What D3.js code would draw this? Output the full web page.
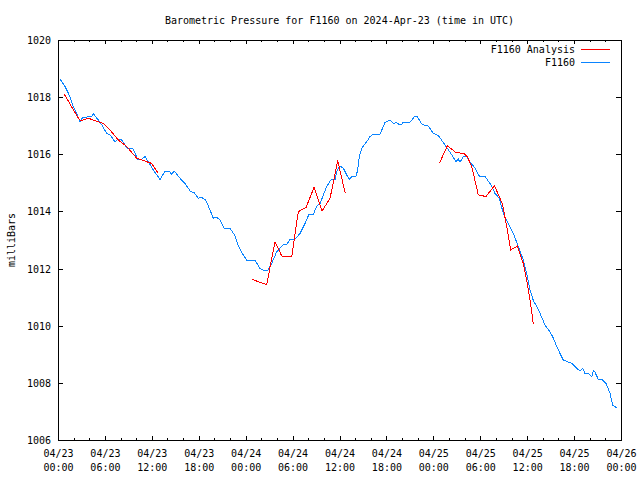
<!DOCTYPE html>
<html><head><meta charset="utf-8">
<script src="https://cdn.jsdelivr.net/npm/d3@7"></script>
<style>
html,body{margin:0;padding:0;background:#fff;}
svg text{font-family:"DejaVu Sans Mono",monospace;font-size:10px;fill:#000;}
</style></head>
<body>
<svg id="chart" width="640" height="480"></svg>
<script>
// ---- data (hours since 2024-04-23 00:00 UTC, pressure in mb) ----
const title = "Barometric Pressure for F1160 on 2024-Apr-23 (time in UTC)";
const yLabel = "milliBars";
const seriesNames = ["F1160 Analysis", "F1160"];
const yTicks = [1006, 1008, 1010, 1012, 1014, 1016, 1018, 1020];

const obsHours = [0.26,0.90,1.53,1.96,2.39,2.81,3.16,4.31,4.51,5.15,5.59,6.23,6.65,7.29,7.71,8.15,8.86,9.55,10.19,10.70,11.13,11.55,12.19,13.05,13.69,14.23,14.54,14.87,15.60,16.24,16.97,17.39,17.94,18.38,18.89,19.44,19.86,20.30,20.72,21.23,22.00,22.64,23.06,23.57,24.13,25.19,25.83,26.35,26.79,27.33,27.97,28.39,28.81,29.25,29.67,30.31,30.95,31.59,32.10,32.65,33.16,33.51,33.93,34.36,34.88,35.43,35.72,36.07,36.49,36.92,37.26,37.56,38.11,38.33,38.53,38.84,39.48,39.90,40.32,41.18,41.82,42.46,42.88,43.32,43.65,43.96,44.16,45.02,45.66,45.95,46.52,46.94,47.36,48.00,48.64,49.20,49.79,50.35,50.90,51.20,51.41,51.84,52.27,52.69,53.33,53.88,54.61,55.38,55.89,56.44,56.95,57.59,58.23,58.87,59.51,59.94,60.37,60.79,61.22,61.65,62.29,62.92,63.35,63.78,64.20,64.62,65.14,65.70,66.34,66.76,67.11,67.40,67.95,68.26,68.46,68.68,69.10,69.66,70.08,70.60,70.94,71.24,71.53];
const obsValues = [1018.63,1018.37,1018.02,1017.67,1017.43,1017.14,1017.29,1017.32,1017.43,1017.20,1017.03,1016.73,1016.68,1016.44,1016.53,1016.50,1016.21,1016.21,1015.83,1015.83,1015.92,1015.74,1015.45,1015.12,1015.41,1015.41,1015.30,1015.41,1015.16,1014.98,1014.69,1014.67,1014.46,1014.49,1014.40,1014.05,1013.76,1013.79,1013.70,1013.41,1013.41,1013.15,1012.79,1012.53,1012.30,1012.30,1012.01,1011.92,1011.92,1012.18,1012.59,1012.71,1012.83,1012.83,1013.03,1013.03,1013.23,1013.58,1013.90,1013.90,1014.22,1014.26,1014.58,1014.87,1015.10,1015.12,1015.45,1015.59,1015.51,1015.28,1015.12,1015.22,1015.24,1015.45,1015.92,1016.21,1016.44,1016.62,1016.70,1016.71,1017.11,1017.20,1017.08,1017.11,1017.04,1017.05,1017.12,1017.12,1017.34,1017.32,1017.06,1017.01,1016.99,1016.73,1016.66,1016.44,1016.21,1015.98,1015.74,1015.83,1015.72,1015.92,1015.92,1015.74,1015.51,1015.24,1015.22,1014.93,1014.63,1014.46,1013.93,1013.58,1013.23,1012.77,1012.30,1011.83,1011.25,1010.88,1010.67,1010.43,1010.02,1009.79,1009.56,1009.27,1009.03,1008.80,1008.74,1008.68,1008.51,1008.42,1008.51,1008.33,1008.31,1008.22,1008.42,1008.37,1008.12,1008.10,1007.98,1007.63,1007.22,1007.17,1007.11];

// analysis runs (three separate segments)
const anaHours1 = [0.81,2.47,2.90,3.88,4.73,5.79,6.65,7.71,8.79,10.07,11.34,11.98,12.83];
const anaValues1 = [1018.10,1017.32,1017.17,1017.26,1017.18,1017.08,1016.85,1016.50,1016.27,1015.86,1015.74,1015.68,1015.33];
const anaHours2 = [24.81,26.69,27.75,28.61,29.89,30.73,31.72,32.74,33.76,34.79,35.77,36.74];
const anaValues2 = [1011.62,1011.44,1012.94,1012.44,1012.42,1013.99,1014.14,1014.84,1014.01,1014.46,1015.78,1014.63];
const anaHours3 = [48.77,49.79,50.90,51.92,52.34,52.91,53.75,54.74,55.80,56.44,56.87,57.38,57.90,58.74,59.51,59.94,60.37,60.79];
const anaValues3 = [1015.68,1016.30,1016.06,1016.03,1015.92,1015.57,1014.58,1014.52,1014.90,1014.52,1014.23,1013.47,1012.65,1012.79,1012.18,1011.60,1010.90,1010.06];

// ---- chart ----
const t0 = Date.UTC(2024, 3, 23, 0, 0);
const toDate = h => new Date(t0 + h * 3600e3);
const M = {left: 58, right: 621, top: 40, bottom: 440};
const svg = d3.select("#chart");

const x = d3.scaleUtc().domain([toDate(0), toDate(72)]).range([M.left, M.right]);
const y = d3.scaleLinear().domain([1006, 1020]).range([M.bottom, M.top]);

const fmtDate = d3.utcFormat("%m/%d"), fmtTime = d3.utcFormat("%H:%M");
const major = x.ticks(d3.utcHour.every(6));
const minor = x.ticks(d3.utcHour.every(2));

// bottom axis: minor ticks
svg.append("g").attr("transform", `translate(0,${M.bottom})`)
  .call(d3.axisBottom(x).tickValues(minor).tickSizeInner(-2).tickSizeOuter(0).tickFormat(""))
  .call(g => g.select(".domain").remove());
// bottom axis: major ticks + labels
svg.append("g").attr("transform", `translate(0,${M.bottom})`)
  .call(d3.axisBottom(x).tickValues(major).tickSizeInner(-4).tickSizeOuter(0).tickPadding(0).tickFormat(""))
  .call(g => g.select(".domain").remove())
  .call(g => g.selectAll(".tick text").attr("dy", null).each(function(d){
     const t = d3.select(this);
     t.append("tspan").attr("x", 0).attr("y", 17).text(fmtDate(d));
     t.append("tspan").attr("x", 0).attr("y", 31).text(fmtTime(d));
  }));
// top axis mirror
svg.append("g").attr("transform", `translate(0,${M.top})`)
  .call(d3.axisTop(x).tickValues(minor).tickSizeInner(-2).tickSizeOuter(0).tickFormat(""))
  .call(g => g.select(".domain").remove());
svg.append("g").attr("transform", `translate(0,${M.top})`)
  .call(d3.axisTop(x).tickValues(major).tickSizeInner(-4).tickSizeOuter(0).tickFormat(""))
  .call(g => g.select(".domain").remove());
// left axis
svg.append("g").attr("transform", `translate(${M.left},0)`)
  .call(d3.axisLeft(y).tickValues(yTicks).tickSizeInner(-5).tickSizeOuter(0).tickPadding(0).tickFormat(d3.format("d")))
  .call(g => g.select(".domain").remove())
  .call(g => g.selectAll(".tick text").attr("x", -7).attr("dy", "0.35em"));
// right axis mirror
svg.append("g").attr("transform", `translate(${M.right},0)`)
  .call(d3.axisRight(y).tickValues(yTicks).tickSizeInner(-5).tickSizeOuter(0).tickFormat(""))
  .call(g => g.select(".domain").remove());

svg.selectAll(".tick line").attr("stroke", "#000").attr("shape-rendering", "crispEdges");
svg.selectAll("g").attr("font-family", null).attr("font-size", null);

// frame
svg.append("rect").attr("x", M.left + 0.5).attr("y", M.top + 0.5)
  .attr("width", M.right - M.left).attr("height", M.bottom - M.top)
  .attr("fill", "none").attr("stroke", "#000").attr("stroke-width", 1)
  .attr("shape-rendering", "crispEdges");

// lines (aliased, like the original bitmap plot)
const line = d3.line().x(d => x(toDate(d[0]))).y(d => y(d[1]));
const clr = {ana: "#ff0000", obs: "#0a84ff"};
const obs = obsHours.map((h, i) => [h, obsValues[i]]);
svg.append("path").datum(obs).attr("d", line)
  .attr("fill", "none").attr("stroke", clr.obs).attr("stroke-width", 1)
  .attr("shape-rendering", "crispEdges");
[[anaHours1, anaValues1], [anaHours2, anaValues2], [anaHours3, anaValues3]].forEach(([hs, vs]) => {
  svg.append("path").datum(hs.map((h, i) => [h, vs[i]])).attr("d", line)
    .attr("fill", "none").attr("stroke", clr.ana).attr("stroke-width", 1)
    .attr("shape-rendering", "crispEdges");
});

// title & y label
svg.append("text").attr("x", (M.left + M.right) / 2).attr("y", 24)
  .attr("text-anchor", "middle").text(title);
svg.append("text").attr("transform", `translate(15,${(M.top + M.bottom) / 2}) rotate(-90)`)
  .attr("text-anchor", "middle").text(yLabel);

// legend
const lg = svg.append("g");
[[seriesNames[0], clr.ana, 49], [seriesNames[1], clr.obs, 62]].forEach(([name, c, ly]) => {
  lg.append("text").attr("x", 575).attr("y", ly + 4).attr("text-anchor", "end").text(name);
  lg.append("line").attr("x1", 581).attr("x2", 610).attr("y1", ly + 0.5).attr("y2", ly + 0.5)
    .attr("stroke", c).attr("stroke-width", 1).attr("shape-rendering", "crispEdges");
});
</script>
</body></html>
